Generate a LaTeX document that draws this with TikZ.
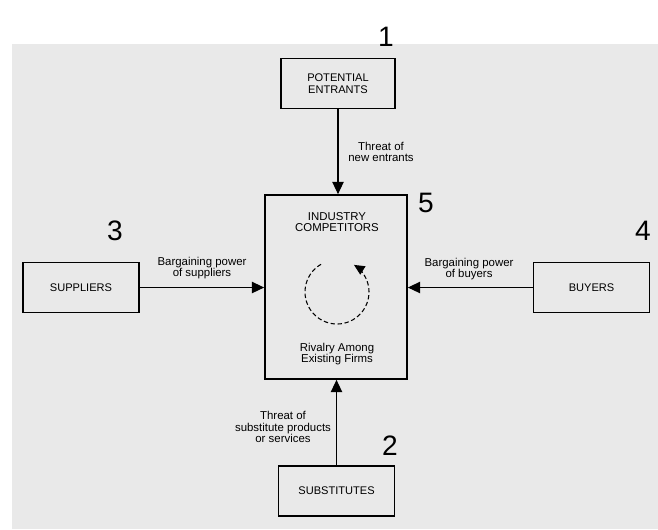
\documentclass[tikz,border=0pt]{standalone}
\usepackage{fontspec}
\setmainfont{Liberation Sans}
\usetikzlibrary{arrows.meta,calc}
\definecolor{paper}{HTML}{E9E9E9}
\begin{document}
\begin{tikzpicture}[x=0.02cm, y=-0.02cm,
  force/.style={draw, line width=1pt, fill=paper, minimum width=2.32cm, minimum height=1cm,
    align=center, font=\fontsize{6.3}{6.6}\selectfont, inner sep=0pt},
  note/.style={align=center, font=\fontsize{6.5}{6.5}\selectfont, inner sep=0pt},
  num/.style={font=\fontsize{16}{16}\selectfont, inner sep=0pt},
  pull/.style={semithick, -{Triangle[length=7pt,width=6.5pt]}}]
  \useasboundingbox (0,0) rectangle (658,529);
  \fill[paper] (12,44) rectangle (658,529);

  % the five forces
  \node[force, minimum width=2.84cm, minimum height=3.68cm] (rivalry) at (336,287) {};
  \node[force, minimum width=2.28cm] (entrants) at (338,83.5) {POTENTIAL\\ENTRANTS};
  \node[force] (suppliers) at (81,287.5) {SUPPLIERS};
  \node[force] (buyers) at (591.5,287.5) {BUYERS};
  \node[force] (substitutes) at (336.5,491) {SUBSTITUTES};

  \node[note] (industry) at (337,222) {INDUSTRY\\COMPETITORS};
  \node[note] (existing) at (337,354) {Rivalry Among\\Existing Firms};
  \coordinate (hub) at (337,292);
  \draw[dash pattern=on 2.5pt off 1.5pt, semithick, -{Triangle[length=6pt,width=5.5pt]}]
    ($(hub)+(120:0.64cm)$) arc[start angle=120, end angle=418, radius=0.64cm];

  % numbers
  \node[num] (n1) at (386,37) {1};
  \node[num] (n2) at (390,446) {2};
  \node[num] (n3) at (115,231) {3};
  \node[num] (n4) at (643,231) {4};
  \node[num] (n5) at (426,203) {5};

  % arrows into the industry
  \draw[pull] (entrants.south) -- (entrants.south |- rivalry.north);
  \draw[pull] (substitutes.north) -- (substitutes.north |- rivalry.south);
  \draw[pull] (suppliers.east) -- (rivalry.west |- suppliers.east);
  \draw[pull] (buyers.west) -- (rivalry.east |- buyers.west);

  \node[note] (newthreat) at (381,152) {Threat of\\new entrants};
  \node[note] (subthreat) at (283,427) {Threat of\\substitute products\\or services};
  \node[note] (supplypower) at (202,268) {Bargaining power\\of suppliers};
  \node[note] (buypower) at (469,269) {Bargaining power\\of buyers};
\end{tikzpicture}
\end{document}
